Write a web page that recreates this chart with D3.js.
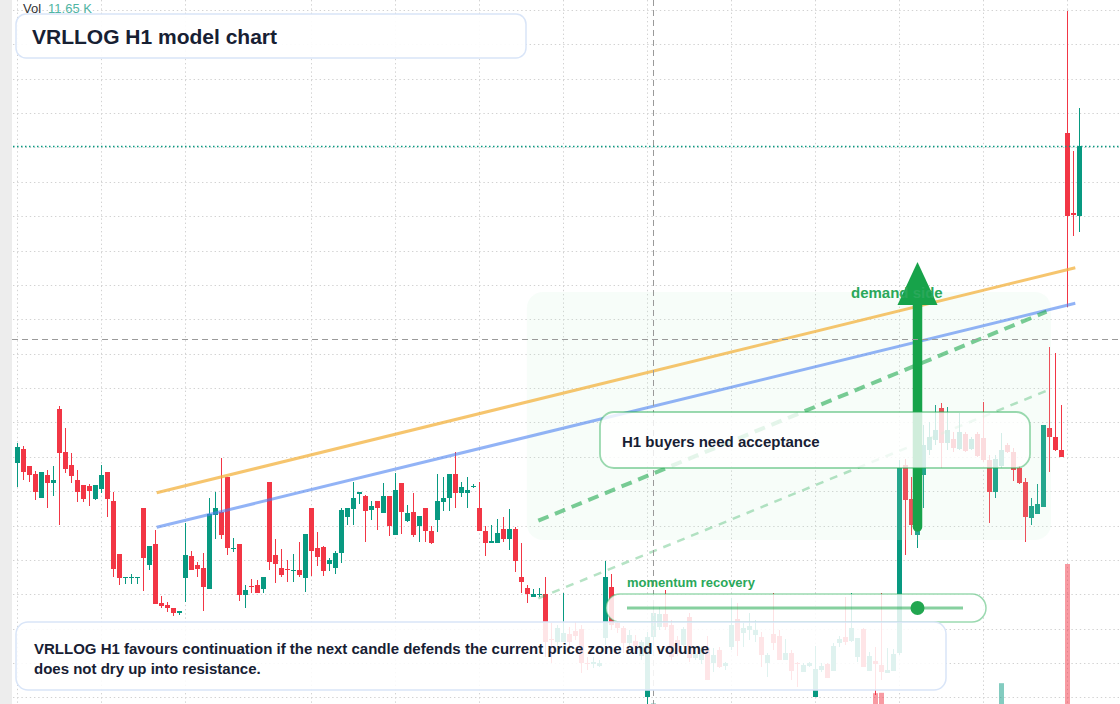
<!DOCTYPE html>
<html>
<head>
<meta charset="utf-8">
<script src="https://cdn.jsdelivr.net/npm/d3@7"></script>
<style>
  html, body { margin: 0; padding: 0; background: #ffffff; }
  svg { display: block; font-family: "Liberation Sans", Arial, Helvetica, sans-serif; }
</style>
</head>
<body>
<div id="chart"></div>
<script>
// hourly candles, [open, high, low, close]
var candles = [
  [593.7,595.7,591.3,595.3],[595.1,595.4,592.0,592.8],[593.4,593.4,591.8,592.5],[592.6,592.9,590.0,590.8],
  [590.2,592.8,590.2,592.8],[592.5,593.0,589.2,591.7],[591.7,593.4,590.4,592.0],[599.1,599.4,587.5,594.7],
  [594.8,597.2,592.7,593.1],[593.5,594.7,591.7,592.4],[592.0,593.0,589.8,590.8],[591.5,591.5,589.8,590.1],
  [591.4,591.6,589.4,590.9],[590.1,591.5,590.0,591.5],[591.1,593.5,590.7,592.5],[592.8,592.8,588.3,590.1],
  [589.9,590.8,582.3,583.1],[584.6,584.6,581.5,582.2],[582.2,582.3,581.6,582.3],[582.2,582.6,581.6,582.3],
  [582.2,582.3,581.6,582.3],[589.2,589.2,580.9,584.2],[583.5,585.4,583.0,585.4],[585.6,587.0,579.6,579.6],
  [579.7,580.4,579.2,579.4],[579.5,579.8,578.8,579.2],[579.2,579.2,578.4,578.7],[578.7,578.9,578.5,578.9],
  [582.2,587.7,579.8,584.5],[584.4,584.9,583.0,583.0],[583.5,583.8,582.3,583.1],[583.2,584.7,578.9,581.3],
  [581.1,590.2,581.1,588.6],[588.5,590.8,586.1,589.2],[588.8,594.2,586.1,586.5],[592.3,592.3,584.5,585.2],
  [585.1,586.2,584.8,585.2],[585.6,585.6,579.9,580.5],[580.5,581.5,579.2,581.0],[581.4,582.1,580.7,581.3],
  [581.5,582.0,580.7,580.7],[581.1,582.3,580.7,582.3],[591.8,591.8,583.0,583.8],[584.5,586.1,581.7,583.6],
  [583.2,585.1,582.3,582.5],[583.1,584.0,581.8,583.0],[582.9,584.6,581.8,583.0],[583.0,585.8,582.3,582.5],
  [582.2,586.6,580.8,586.6],[589.2,589.2,582.4,584.9],[585.2,586.8,583.4,584.3],[585.3,585.4,582.4,582.9],
  [583.6,584.2,582.9,584.0],[583.2,584.9,582.6,584.7],[584.7,589.2,583.7,589.0],[588.3,589.2,587.5,589.2],
  [589.1,591.8,587.5,590.2],[590.6,590.8,589.6,590.8],[590.4,590.5,585.8,588.9],[589.0,589.9,588.0,589.4],
  [589.9,589.9,587.0,589.2],[588.7,591.7,588.7,590.4],[590.4,590.4,586.4,587.4],[586.5,592.7,586.5,591.0],
  [591.7,591.7,586.6,588.8],[587.9,589.5,587.8,588.7],[588.8,590.7,586.3,586.5],[587.4,588.4,585.8,588.4],
  [589.2,589.2,585.8,586.9],[586.9,587.4,585.6,585.7],[588.0,592.6,586.8,589.9],[589.8,592.3,588.9,590.2],
  [590.2,592.6,588.9,592.6],[592.6,594.8,589.2,590.7],[590.7,591.8,590.3,591.3],[590.7,592.3,589.2,591.0],
  [591.3,591.6,591.2,591.4],[589.2,591.8,586.9,586.9],[586.9,587.4,584.4,585.7],[585.7,587.5,585.7,585.9],
  [585.7,588.1,585.7,586.7],[587.1,588.3,585.8,586.1],[586.1,589.1,585.0,587.1],[587.1,587.3,582.8,583.9],
  [582.3,585.7,580.7,581.8],[581.2,581.5,579.7,580.6],[580.3,581.1,580.3,580.6],[580.5,581.2,580.3,580.6],
  [580.6,582.3,574.3,575.8],[576.1,577.7,573.7,576.0],[575.8,577.5,575.3,577.2],[575.8,580.7,575.8,576.7],
  [576.6,577.3,575.0,575.8],[576.9,577.8,576.0,576.4],[577.1,577.5,572.7,573.7],[573.7,574.3,573.0,573.6],
  [573.6,574.3,573.2,573.8],[573.4,574.0,573.3,573.7],[576.2,583.9,575.5,582.3],[581.3,582.6,577.0,577.5],
  [577.7,577.8,576.7,577.2],[577.2,577.4,574.7,575.7],[575.7,577.0,575.4,576.5],[575.9,576.5,575.0,575.4],
  [574.4,576.0,574.0,575.8],[570.3,576.8,569.6,576.3],[576.3,579.5,576.0,578.7],[577.3,579.3,577.0,578.6],
  [578.6,581.0,577.0,577.3],[577.5,578.0,574.0,574.3],[576.0,576.4,574.4,574.8],[575.5,577.3,575.3,577.1],
  [578.3,578.7,573.8,574.2],[574.2,575.0,574.0,574.6],[574.0,575.4,573.6,575.0],[575.2,576.4,572.0,572.0],
  [573.7,575.2,572.8,574.5],[575.0,575.3,573.2,573.3],[573.4,573.8,573.0,573.7],[575.3,580.2,575.0,577.5],
  [578.1,579.7,574.4,575.9],[576.7,577.7,575.3,577.2],[577.0,578.7,576.0,577.4],[576.5,578.0,575.8,577.0],
  [576.3,576.8,573.3,574.5],[573.7,574.7,572.3,574.5],[576.6,580.7,575.0,575.7],[576.4,577.0,574.0,574.0],
  [574.0,576.1,574.0,574.7],[574.7,575.0,572.0,572.9],[573.7,573.8,571.3,573.6],[572.8,573.7,572.8,573.5],
  [573.4,573.8,573.3,573.7],[570.3,575.4,570.3,573.1],[573.0,573.7,572.8,573.4],[573.6,573.7,572.2,572.2],
  [572.9,575.7,572.9,575.4],[575.7,576.4,575.3,576.1],[576.3,580.3,575.5,575.8],[575.9,580.7,575.8,577.2],
  [574.3,576.2,573.8,576.2],[577.1,577.2,573.3,573.3],[572.9,574.8,572.9,574.4],[573.9,575.3,570.5,573.6],
  [573.5,580.7,572.0,572.8],[572.7,575.2,572.7,573.0],[572.9,575.1,572.9,574.6],[574.7,594.0,574.5,593.2],
  [593.5,594.1,584.5,590.0],[590.1,592.3,586.5,587.5],[586.5,592.0,585.2,591.0],[592.5,597.5,589.2,595.5],
  [595.0,597.8,594.5,596.3],[596.0,599.5,595.5,597.0],[599.2,599.7,593.2,595.7],[595.7,599.3,595.0,597.0],
  [596.1,596.8,594.8,595.2],[595.1,598.7,595.0,596.8],[596.6,596.8,594.8,594.9],[595.1,596.3,595.0,596.1],
  [596.6,596.8,594.3,594.4],[596.2,599.8,593.8,594.0],[594.0,594.5,587.7,590.8],[590.8,594.5,590.2,594.1],
  [593.4,596.7,593.2,595.0],[595.5,595.7,594.7,594.8],[594.8,595.2,591.9,593.0],[593.2,593.4,591.6,591.7],
  [591.8,592.2,585.8,588.3],[588.2,590.2,587.5,589.4],[588.6,591.6,588.6,589.6],[589.3,597.5,589.3,597.5],
  [597.2,605.3,592.8,596.3],[596.3,604.7,594.9,595.0],[595.0,599.5,594.3,594.3],[626.7,638.9,609.3,618.4],
  [618.7,624.9,616.4,618.5],[618.4,629.2,616.8,625.4]
];

// volume in thousands
var volumes = [
  6.2, 5.1, 3.8, 4.4, 5.6, 3.9, 3.2, 9.8, 6.5, 4.1, 4.7, 3.6, 2.9, 3.4,
  4.2, 5.3, 10.4, 7.1, 2.6, 2.2, 2.4, 8.9, 4.8, 9.6, 3.1, 2.7, 2.9, 1.8,
  7.4, 4.0, 2.5, 5.9, 10.1, 6.3, 7.8, 9.2, 2.0, 8.1, 3.3, 2.6, 2.8, 3.5,
  9.5, 5.2, 3.4, 2.7, 2.9, 3.1, 7.2, 8.4, 3.7, 4.5, 2.4, 3.8, 8.6, 3.6,
  5.0, 2.8, 5.7, 3.0, 3.9, 5.4, 6.1, 8.8, 7.5, 3.2, 5.5, 3.7, 5.8, 3.9,
  6.4, 4.3, 6.9, 7.3, 3.1, 3.6, 1.9, 6.6, 4.6, 2.8, 3.4, 3.9, 4.1, 6.8,
  5.3, 3.8, 2.3, 2.1, 9.4, 3.3, 4.0, 5.1, 3.0, 2.6, 7.7, 2.2, 2.0, 1.9,
  10.8, 8.2, 2.9, 4.6, 3.1, 2.7, 4.3, 10.9, 11.65, 5.8, 6.2, 6.9, 3.8, 4.4,
  8.0, 2.6, 3.5, 6.7, 3.4, 4.2, 2.1, 6.3, 6.0, 3.2, 3.6, 3.3, 5.2, 4.1,
  5.9, 5.4, 3.0, 4.9, 4.6, 2.5, 2.2, 7.9, 2.4, 3.9, 5.6, 2.7, 6.1, 6.5,
  4.8, 7.0, 3.7, 14.2, 14.3, 3.8, 4.9, 11.2, 10.6, 8.3, 9.1, 9.7, 5.4, 6.0,
  9.9, 6.6, 4.2, 5.7, 4.4, 3.6, 5.3, 7.6, 9.0, 8.7, 16.7, 3.4, 5.0, 4.6,
  8.5, 5.9, 6.2, 10.3, 9.3, 7.4, 5.5, 46.5, 8.8, 11.1
];

var timeGridIndex = [0, 14, 28, 49, 63, 77, 91, 105, 119, 133, 147, 161, 175];
var crosshairIndex = 106;
var crosshairPrice = 606.15;

// drawn studies: [index, price] endpoints
var trendLines = [
  { from: [23.2, 590.73], to: [176.3, 613.23], stroke: "rgba(243,178,62,0.75)", width: 3, dash: null },
  { from: [23.2, 587.27], to: [176.3, 609.67], stroke: "rgba(74,128,240,0.6)", width: 3, dash: null },
  { from: [86.8, 587.93], to: [171.5, 608.83], stroke: "rgba(34,170,80,0.6)", width: 4, dash: "11,7" },
  { from: [86.8, 580.17], to: [171.8, 601.0], stroke: "rgba(34,170,80,0.33)", width: 2.5, dash: "8,7" }
];
var demandZone = { i0: 84.9, i1: 172.25, top: 610.8, bottom: 586.0 };
var demandArrow = { index: 150, from: 587.3, to: 613.8, headBase: 609.5 };
var momentumDot = 150;

var W = 1120, H = 704;
var UP = "#089981", DOWN = "#f23645";

var svg = d3.select("#chart").append("svg")
  .attr("width", W).attr("height", H);

var x = d3.scaleLinear().domain([0, candles.length - 1]).range([17.5, 17.5 + 6 * (candles.length - 1)]);
var y = d3.scaleLinear().domain([569.6, 640]).range([704, 0]);
var v = d3.scaleLinear().domain([0, 50]).range([750, 550]);

svg.append("rect").attr("width", W).attr("height", H).attr("fill", "#ffffff");
svg.append("rect").attr("x", 0).attr("y", 0).attr("width", 12).attr("height", H).attr("fill", "#ededed");

// grid
var grid = svg.append("g").attr("class", "grid")
  .attr("stroke", "#d2d2d2").attr("stroke-width", 1).attr("stroke-dasharray", "1.4,2.8");
grid.selectAll(".hg")
  .data(d3.range(0, 21).map(function (k) { return 639 - 3.437 * k; }))
  .enter().append("line")
  .attr("x1", 13).attr("x2", W)
  .attr("y1", function (p) { return Math.round(y(p)) + 0.5; })
  .attr("y2", function (p) { return Math.round(y(p)) + 0.5; });
grid.selectAll(".vg")
  .data(timeGridIndex)
  .enter().append("line")
  .attr("x1", function (i) { return x(i); }).attr("x2", function (i) { return x(i); })
  .attr("y1", 0).attr("y2", H);

// volume
svg.append("g").selectAll("rect")
  .data(volumes)
  .enter().append("rect")
  .attr("x", function (d, i) { return x(i) - 2.5; })
  .attr("width", 5)
  .attr("y", function (d) { return v(d); })
  .attr("height", function (d) { return v(0) - v(d); })
  .attr("fill", function (d, i) { return candles[i][3] >= candles[i][0] ? UP : DOWN; })
  .attr("fill-opacity", 0.5);

// candles
var cg = svg.append("g").attr("class", "candles");
var cell = cg.selectAll(".c")
  .data(candles)
  .enter().append("g")
  .attr("class", "c")
  .attr("fill", function (d) { return d[3] >= d[0] ? UP : DOWN; });
cell.append("rect")
  .attr("x", function (d, i) { return x(i) - 0.5; })
  .attr("width", 1)
  .attr("y", function (d) { return y(d[1]); })
  .attr("height", function (d) { return Math.max(1, y(d[2]) - y(d[1])); });
cell.append("rect")
  .attr("x", function (d, i) { return x(i) - 2.5; })
  .attr("width", 5)
  .attr("y", function (d) { return y(Math.max(d[0], d[3])); })
  .attr("height", function (d) { return Math.max(1, Math.abs(y(d[0]) - y(d[3]))); });

// demand zone
svg.append("rect")
  .attr("x", x(demandZone.i0)).attr("y", y(demandZone.top))
  .attr("width", x(demandZone.i1) - x(demandZone.i0))
  .attr("height", y(demandZone.bottom) - y(demandZone.top))
  .attr("rx", 16)
  .attr("fill", "rgb(200,240,212)").attr("fill-opacity", 0.15);

// trend lines
svg.append("g").selectAll("line")
  .data(trendLines)
  .enter().append("line")
  .attr("x1", function (d) { return x(d.from[0]); })
  .attr("y1", function (d) { return y(d.from[1]); })
  .attr("x2", function (d) { return x(d.to[0]); })
  .attr("y2", function (d) { return y(d.to[1]); })
  .attr("stroke", function (d) { return d.stroke; })
  .attr("stroke-width", function (d) { return d.width; })
  .attr("stroke-dasharray", function (d) { return d.dash; });

// demand arrow
var ax = x(demandArrow.index);
svg.append("line")
  .attr("x1", ax).attr("x2", ax)
  .attr("y1", y(demandArrow.from)).attr("y2", y(demandArrow.headBase) - 2)
  .attr("stroke", "#17a34a").attr("stroke-width", 9.5).attr("stroke-linecap", "round");
svg.append("path")
  .attr("d", "M" + (ax - 20) + "," + y(demandArrow.headBase) +
    "L" + ax + "," + y(demandArrow.to) +
    "L" + (ax + 20) + "," + y(demandArrow.headBase) + "Z")
  .attr("fill", "#17a34a");

svg.append("text")
  .attr("x", 851).attr("y", 298)
  .attr("font-size", 15).attr("font-weight", "bold").attr("fill", "#2aa85a")
  .text("demand side");

// crosshair
var ch = svg.append("g").attr("stroke", "#9a9a9a").attr("stroke-width", 1).attr("stroke-dasharray", "6,4");
ch.append("line").attr("x1", x(crosshairIndex)).attr("x2", x(crosshairIndex)).attr("y1", 0).attr("y2", H);
ch.append("line").attr("x1", 12).attr("x2", W)
  .attr("y1", Math.round(y(crosshairPrice)) + 0.5).attr("y2", Math.round(y(crosshairPrice)) + 0.5);

// last price line
var last = candles[candles.length - 1];
svg.append("line")
  .attr("x1", 13).attr("x2", W)
  .attr("y1", Math.round(y(last[3])) + 0.5).attr("y2", Math.round(y(last[3])) + 0.5)
  .attr("stroke", UP).attr("stroke-width", 1.3).attr("stroke-dasharray", "1.5,2.5");

// annotation boxes
function box(x0, y0, w, h, r, stroke, sw, op) {
  svg.append("rect")
    .attr("x", x0).attr("y", y0).attr("width", w).attr("height", h).attr("rx", r)
    .attr("fill", "#ffffff").attr("fill-opacity", op)
    .attr("stroke", stroke).attr("stroke-width", sw);
}

box(600, 412, 430, 56, 14, "rgba(34,170,80,0.45)", 1.8, 0.8);
svg.append("text")
  .attr("x", 622).attr("y", 447)
  .attr("font-size", 15).attr("font-weight", "bold").attr("fill", "#172033")
  .text("H1 buyers need acceptance");

svg.append("text")
  .attr("x", 627).attr("y", 587)
  .attr("font-size", 13).attr("font-weight", "bold").attr("fill", "#2aa85a")
  .text("momentum recovery");
box(606, 594, 380, 28, 14, "rgba(34,170,80,0.45)", 1.5, 0.85);
svg.append("line")
  .attr("x1", 627).attr("x2", 963).attr("y1", 608).attr("y2", 608)
  .attr("stroke", "rgba(34,170,80,0.55)").attr("stroke-width", 3);
svg.append("circle")
  .attr("cx", x(momentumDot)).attr("cy", 608).attr("r", 7)
  .attr("fill", "#22a650");

box(16, 622, 930, 68, 12, "#d9e5f8", 1.5, 0.87);
var note = svg.append("text")
  .attr("font-size", 15).attr("font-weight", "bold").attr("fill", "#172033");
note.append("tspan").attr("x", 34).attr("y", 654)
  .text("VRLLOG H1 favours continuation if the next candle defends the current price zone and volume");
note.append("tspan").attr("x", 34).attr("y", 674)
  .text("does not dry up into resistance.");

box(16, 14, 510, 44, 10, "#d9e5f8", 1.5, 0.92);
svg.append("text")
  .attr("x", 32).attr("y", 44)
  .attr("font-size", 21).attr("font-weight", "bold").attr("fill", "#172033")
  .text("VRLLOG H1 model chart");

// legend
var leg = svg.append("text").attr("x", 23).attr("y", 13).attr("font-size", 13);
leg.append("tspan").attr("fill", "#333333").text("Vol");
leg.append("tspan").attr("dx", 7).attr("fill", "#4fb5a3")
  .text(d3.format(".2f")(volumes[crosshairIndex]) + " K");
</script>
</body>
</html>
